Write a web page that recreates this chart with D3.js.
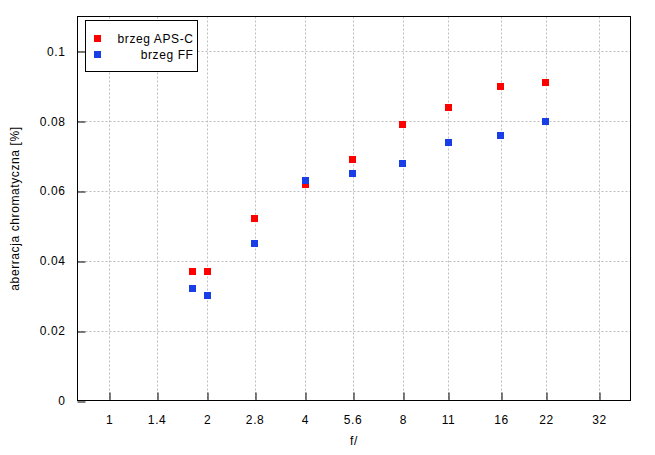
<!DOCTYPE html>
<html>
<head>
<meta charset="utf-8">
<script src="https://cdn.jsdelivr.net/npm/d3@7"></script>
<style>
  body { margin: 0; background: #fff; }
  svg { display: block; }
  text { font-family: "Liberation Sans", Arial, sans-serif; font-size: 12px; fill: #000; letter-spacing: 0.6px; }
</style>
</head>
<body>
<svg id="chart" width="655" height="455"></svg>
<script>
// ---- data ----
const fStops = [1.8, 2, 2.8, 4, 5.6, 8, 11, 16, 22];
const apsC   = [0.037, 0.037, 0.052, 0.062, 0.069, 0.079, 0.084, 0.090, 0.091];
const ff     = [0.032, 0.030, 0.045, 0.063, 0.065, 0.068, 0.074, 0.076, 0.080];
const xTicks = [1, 1.4, 2, 2.8, 4, 5.6, 8, 11, 16, 22, 32];
const xTickLabels = ["1", "1.4", "2", "2.8", "4", "5.6", "8", "11", "16", "22", "32"];
const yTicks = [0, 0.02, 0.04, 0.06, 0.08, 0.1];
const yTickLabels = ["0", "0.02", "0.04", "0.06", "0.08", "0.1"];
const seriesNames = ["brzeg APS-C", "brzeg FF"];
const seriesColors = ["#ff0000", "#1a3ee6"];

// ---- layout ----
const svg = d3.select("#chart");
const L = 77.5, R = 630.5, T = 16.5, B = 400.5;

const x = d3.scaleLog().domain([0.8, 40]).range([L, R]);
const y = d3.scaleLinear().domain([0, 0.11]).range([B, T]);

// grid
const grid = svg.append("g").attr("stroke", "#bdbdbd").attr("stroke-width", 1).attr("stroke-dasharray", "2,2");
grid.selectAll("line.gx").data(xTicks).enter().append("line")
  .attr("x1", d => Math.round(x(d)) + 0.5).attr("x2", d => Math.round(x(d)) + 0.5)
  .attr("y1", T).attr("y2", B);
grid.selectAll("line.gy").data(yTicks.filter(d => d > 0)).enter().append("line")
  .attr("x1", L).attr("x2", R)
  .attr("y1", d => Math.round(y(d)) + 0.5).attr("y2", d => Math.round(y(d)) + 0.5);

// axes
const xAxis = d3.axisBottom(x).tickValues(xTicks)
  .tickFormat((d, i) => xTickLabels[i]).tickSize(-8).tickSizeOuter(0).tickPadding(15);
const gx = svg.append("g").attr("transform", `translate(0,${B})`).call(xAxis);
gx.select(".domain").remove();
gx.selectAll(".tick line").attr("stroke", "#000")
  .attr("transform", function(d){ const p = x(d); return `translate(${Math.round(p)+0.5-p},0)`; });
gx.selectAll(".tick text").attr("font-size", 12).attr("font-family", "Liberation Sans, Arial, sans-serif");

const yAxis = d3.axisLeft(y).tickValues(yTicks)
  .tickFormat((d, i) => yTickLabels[i]).tickSize(-8).tickSizeOuter(0).tickPadding(12);
const gy = svg.append("g").attr("transform", `translate(${L},0)`).call(yAxis);
gy.select(".domain").remove();
gy.selectAll(".tick line").attr("stroke", "#000")
  .attr("transform", function(d){ const p = y(d); return `translate(0,${Math.round(p)+0.5-p})`; });
gy.selectAll(".tick text").attr("font-size", 12).attr("font-family", "Liberation Sans, Arial, sans-serif");

// frame
svg.append("rect").attr("x", L).attr("y", T).attr("width", R - L).attr("height", B - T)
  .attr("fill", "none").attr("stroke", "#000").attr("stroke-width", 1);

// points
const series = [apsC, ff];
series.forEach((vals, si) => {
  svg.append("g").selectAll("rect").data(vals).enter().append("rect")
    .attr("x", (d, i) => Math.round(x(fStops[i]) - 3.5))
    .attr("y", d => Math.round(y(d) - 3.5))
    .attr("width", 7).attr("height", 7)
    .attr("fill", seriesColors[si]);
});

// legend
const lg = svg.append("g");
lg.append("rect").attr("x", 85.5).attr("y", 20.5).attr("width", 112).attr("height", 51)
  .attr("fill", "#fff").attr("stroke", "#000").attr("stroke-width", 1);
seriesNames.forEach((name, i) => {
  const cy = 38.5 + i * 16;
  lg.append("rect").attr("x", 94).attr("y", cy - 3.5).attr("width", 7).attr("height", 7)
    .attr("fill", seriesColors[i]);
  lg.append("text").attr("x", 193.5).attr("y", cy + 4.5).attr("text-anchor", "end").text(name);
});

// axis titles
svg.append("text").attr("x", (L + R) / 2).attr("y", 445).attr("text-anchor", "middle").text("f/");
svg.append("text").attr("transform", `translate(18.5,${(T + B) / 2}) rotate(-90)`)
  .attr("text-anchor", "middle").text("aberracja chromatyczna [%]");
</script>
</body>
</html>
